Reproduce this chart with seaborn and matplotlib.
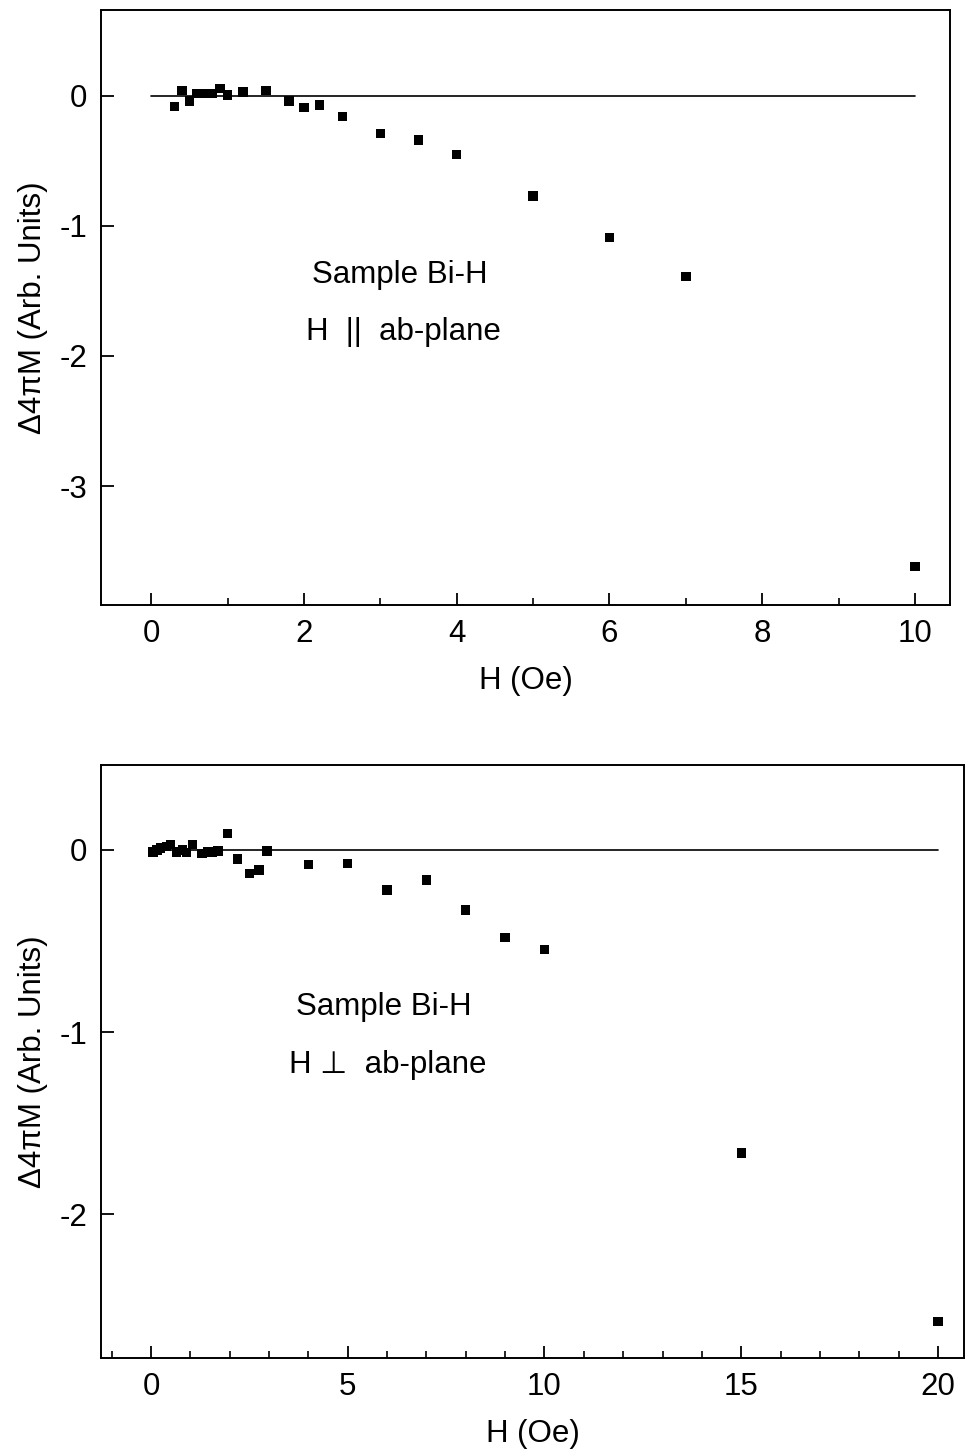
import matplotlib
matplotlib.use("Agg")
import matplotlib.pyplot as plt
from matplotlib.ticker import MultipleLocator
import seaborn as sns
import pandas as pd

# ---- data ----
H_par = [0.3, 0.4, 0.5, 0.6, 0.7, 0.8, 0.9, 1.0, 1.2, 1.5, 1.8, 2.0, 2.2, 2.5,
         3.0, 3.5, 4.0, 5.0, 6.0, 7.0, 10.0]
M_par = [-0.08, 0.04, -0.04, 0.02, 0.02, 0.02, 0.055, 0.008, 0.03, 0.04, -0.04,
         -0.09, -0.07, -0.16, -0.29, -0.34, -0.45, -0.77, -1.09, -1.39, -3.62]

H_perp = [0.05, 0.15, 0.25, 0.4, 0.5, 0.65, 0.8, 0.9, 1.05, 1.3, 1.45, 1.55, 1.7,
          1.95, 2.2, 2.5, 2.75, 2.95, 4, 5, 6, 7, 8, 9, 10, 15, 20]
M_perp = [-0.01, 0.0, 0.01, 0.02, 0.03, -0.01, 0.0, -0.015, 0.03, -0.02, -0.01,
          -0.015, -0.005, 0.09, -0.05, -0.13, -0.11, -0.005, -0.08, -0.075,
          -0.22, -0.165, -0.33, -0.48, -0.545, -1.665, -2.59]

base_par_x = [0, 10]
base_perp_x = [0, 20]
base_y = [0, 0]

xticks_par = [0, 2, 4, 6, 8, 10]
xticks_perp = [0, 5, 10, 15, 20]
yticks_par = [0, -1, -2, -3]
yticks_perp = [0, -1, -2]

xlabel = "H (Oe)"
ylabel = "Δ4πM (Arb. Units)"

sns.set_style("ticks")
plt.rcParams['font.family'] = ['Liberation Sans', 'DejaVu Sans']
plt.rcParams['axes.linewidth'] = 1.4
plt.rcParams['text.color'] = 'black'
plt.rcParams['axes.labelcolor'] = 'black'
plt.rcParams['xtick.color'] = 'black'
plt.rcParams['ytick.color'] = 'black'
plt.rcParams['axes.edgecolor'] = 'black'

FS = 22.5

fig = plt.figure(figsize=(9.69, 14.54), dpi=100)
ax1 = fig.add_axes([0.1042, 0.5839, 0.8762, 0.4092])
ax2 = fig.add_axes([0.1042, 0.0660, 0.8906, 0.4079])


def style(ax, xticks, yticks, xminor):
    ax.set_xticks(xticks)
    ax.set_yticks(yticks)
    ax.set_xticklabels([str(t) for t in xticks])
    ax.set_yticklabels([str(t) for t in yticks])
    ax.xaxis.set_minor_locator(MultipleLocator(xminor))
    ax.tick_params(axis='both', which='major', direction='in', length=9,
                   width=1.3, labelsize=FS, pad=10, colors='black')
    ax.tick_params(axis='x', which='minor', direction='in', length=5, width=1.2)
    ax.tick_params(axis='y', which='minor', left=False)
    for s in ax.spines.values():
        s.set_visible(True)
        s.set_color('black')
    ax.set_xlabel(xlabel, fontsize=FS, labelpad=12, color='black')
    ax.set_ylabel(ylabel, fontsize=FS, labelpad=8, color='black')


df_par = pd.DataFrame({"H": H_par, "M": M_par})
df_perp = pd.DataFrame({"H": H_perp, "M": M_perp})

sns.lineplot(x=base_par_x, y=base_y, ax=ax1, color='black', linewidth=1.2)
sns.scatterplot(data=df_par, x="H", y="M", ax=ax1, marker='s', s=46,
                color='black', edgecolor='none')
ax1.set_xlim(-0.66, 10.46)
ax1.set_ylim(-3.915, 0.66)
style(ax1, xticks_par, yticks_par, 1)
ax1.text(2.11, -1.377, "Sample Bi-H", fontsize=FS, va='center', ha='left',
         color='black')
ax1.text(2.03, -1.815, "H  ||  ab-plane", fontsize=FS, va='center', ha='left',
         color='black')

sns.lineplot(x=base_perp_x, y=base_y, ax=ax2, color='black', linewidth=1.2)
sns.scatterplot(data=df_perp, x="H", y="M", ax=ax2, marker='s', s=46,
                color='black', edgecolor='none')
ax2.set_xlim(-1.27, 20.66)
ax2.set_ylim(-2.79, 0.467)
style(ax2, xticks_perp, yticks_perp, 1)
ax2.text(3.68, -0.863, "Sample Bi-H", fontsize=FS, va='center', ha='left',
         color='black')
ax2.text(3.51, -1.18, "H ⊥  ab-plane", fontsize=FS, va='center', ha='left',
         color='black')

fig.savefig("out.png", dpi=100)
